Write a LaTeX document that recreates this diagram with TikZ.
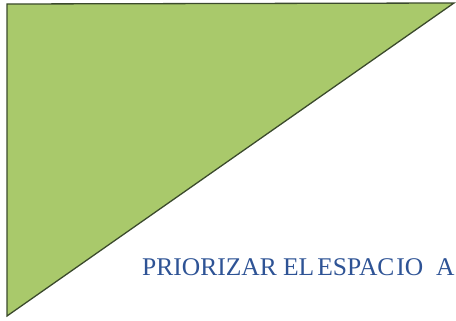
\documentclass[tikz,border=0pt]{standalone}
\usepackage{fontspec}
\setmainfont{Liberation Serif}
\definecolor{trifill}{HTML}{A9C96B}
\definecolor{tristroke}{HTML}{3B4A2C}
\definecolor{txtblue}{HTML}{2E5395}
\tikzset{tri/.style={fill=trifill,draw=tristroke,line width=1.3pt,line join=miter},
lbl/.style={text=txtblue,font=\fontsize{25.5}{28}\selectfont,inner sep=0pt,anchor=base west}}
\begin{document}
\begin{tikzpicture}[x=1pt,y=-1pt]
\useasboundingbox (0,0) rectangle (456,321);
\clip (0,0) rectangle (456,321);
\coordinate (tl) at (7,4);
\coordinate (tr) at (454,3);
\coordinate (bl) at (7,316);
\draw[tri] (tl) -- (tr) -- (bl) -- cycle;
\node[lbl] (t) at (142,276) {PRIORIZAR EL\hspace{0.12em}ESPAC\hspace{0.08em}IO\hspace{0.25em} A};
\end{tikzpicture}
\end{document}
